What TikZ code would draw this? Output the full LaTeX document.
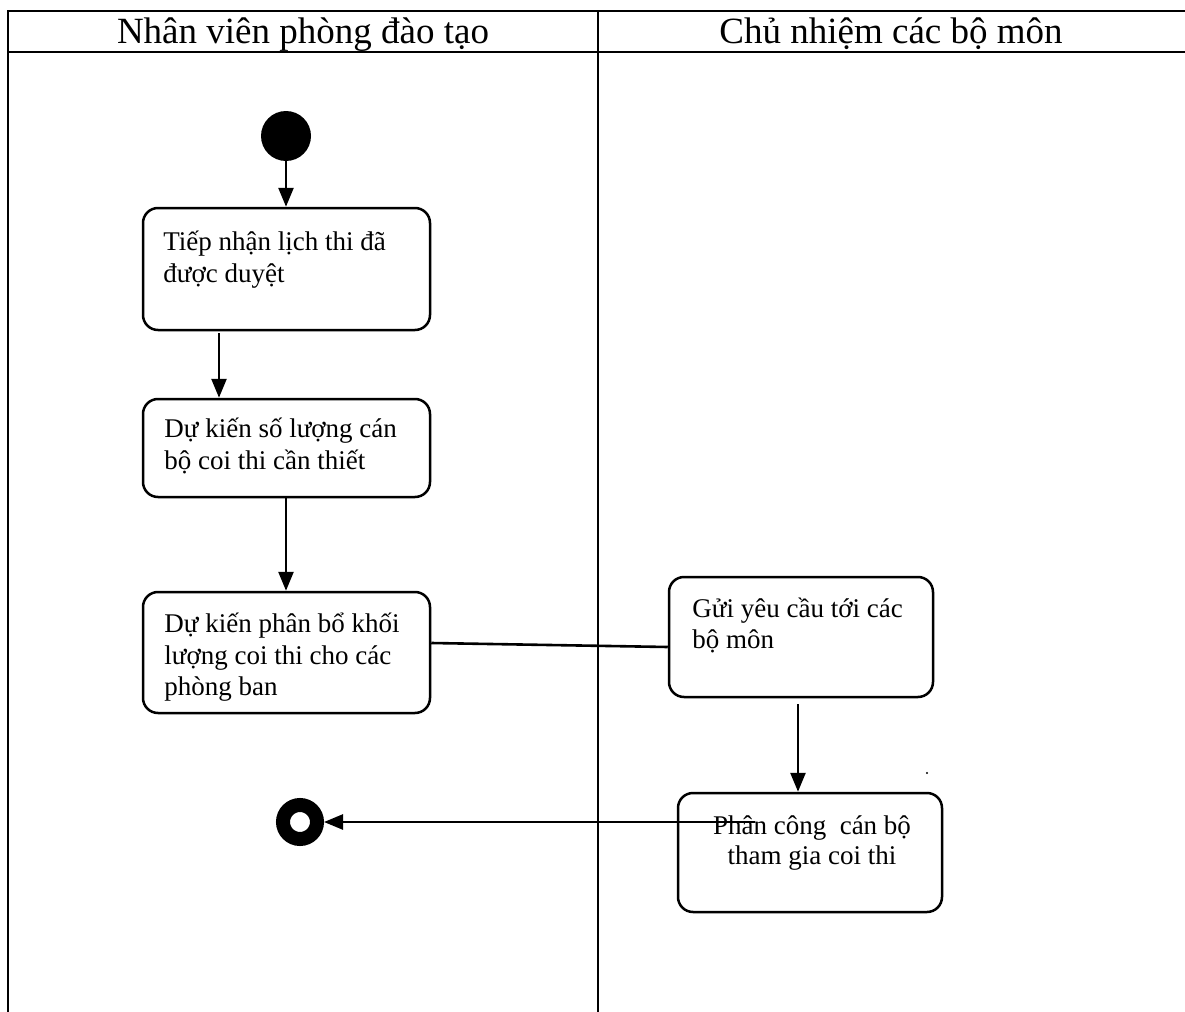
\documentclass[tikz,border=0pt]{standalone}
\usepackage{fontspec}
\setmainfont{Liberation Serif}
\usetikzlibrary{arrows.meta}
\begin{document}
\begin{tikzpicture}[x=0.5pt,y=-0.5pt,
  lane/.style={line width=1pt},
  actbox/.style={draw, line width=1.25pt, rounded corners=7.5pt, inner sep=0pt},
  txt/.style={font=\fontsize{13.5pt}{16pt}\selectfont, inner sep=0pt},
  hdr/.style={font=\fontsize{18.5pt}{22pt}\selectfont, inner sep=0pt},
  arr/.style={line width=1.3pt, -{Triangle[width=7.5pt,length=9.5pt]}},
  flow/.style={line width=1.3pt},
  startst/.style={circle, fill=black, inner sep=0pt, minimum size=25pt},
  endst/.style={circle, draw, fill=white, line width=7pt, inner sep=0pt, minimum size=17pt},
  dotst/.style={circle, fill=black, inner sep=0pt, minimum size=1.2pt}]
\useasboundingbox (0,0) rectangle (1185,1012);
% swimlanes
\draw[lane] (8,11) -- (1185,11);
\draw[lane] (8,52) -- (1185,52);
\draw[lane] (8,10) -- (8,1012);
\draw[lane] (598,10) -- (598,1012);
\node[hdr, anchor=base] (h1) at (303,43) {Nhân viên phòng đào tạo};
\node[hdr, anchor=base] (h2) at (891,43) {Chủ nhiệm các bộ môn};
% nodes
\node[startst] (start) at (286,136) {};
\node[actbox, minimum width=143.5pt, minimum height=61pt] (b1) at (286.5,269) {};
\node[actbox, minimum width=143.5pt, minimum height=49pt] (b2) at (286.5,448) {};
\node[actbox, minimum width=143.5pt, minimum height=60.5pt] (b3) at (286.5,652.5) {};
\node[actbox, minimum width=132pt, minimum height=60pt] (b4) at (801,637) {};
\node[actbox, minimum width=132pt, minimum height=59.5pt] (b5) at (810,852.5) {};
\node[endst] (end) at (300,822) {};
\node[dotst] (dot) at (927,773) {};
% texts
\node[txt, anchor=base west] (t1a) at (163,250) {Tiếp nhận lịch thi đã};
\node[txt, anchor=base west] (t1b) at (163,282) {được duyệt};
\node[txt, anchor=base west] (t2a) at (164,437) {Dự kiến số lượng cán};
\node[txt, anchor=base west] (t2b) at (164,469) {bộ coi thi cần thiết};
\node[txt, anchor=base west] (t3a) at (164,632) {Dự kiến phân bổ khối};
\node[txt, anchor=base west] (t3b) at (164,664) {lượng coi thi cho các};
\node[txt, anchor=base west] (t3c) at (164,695) {phòng ban};
\node[txt, anchor=base west] (t4a) at (692,617) {Gửi yêu cầu tới các};
\node[txt, anchor=base west] (t4b) at (692,648) {bộ môn};
\node[txt, anchor=base] (t5a) at (812,834) {Phân công\ \ cán bộ};
\node[txt, anchor=base] (t5b) at (812,864) {tham gia coi thi};
% connectors
\coordinate (c12) at (219,333);
\coordinate (c45) at (798,704);
\coordinate (p5) at (755,822);
\draw[arr] (start) -- (start |- b1.north);
\draw[arr] (c12) -- (c12 |- b2.north);
\draw[arr] (b2.south -| start) -- (start |- b3.north);
\draw[flow] (b3.east |- 0,643) -- (b4.west |- 0,647);
\draw[arr] (c45) -- (c45 |- b5.north);
\draw[arr] (p5) -- (end);
\end{tikzpicture}
\end{document}
